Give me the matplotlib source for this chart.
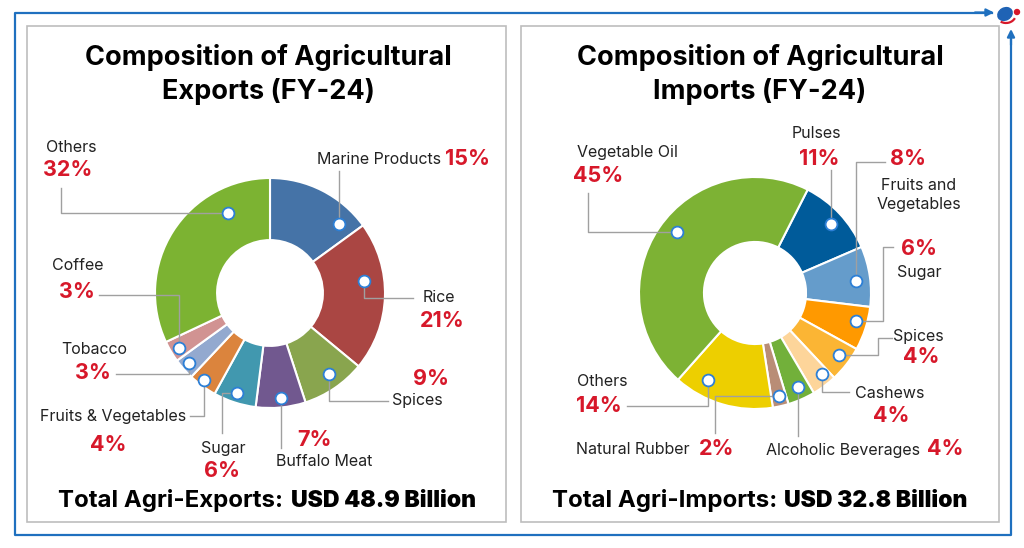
import matplotlib
matplotlib.use('Agg')
import matplotlib.pyplot as plt
from matplotlib.patches import Rectangle, Ellipse, Arc

plt.rcParams['font.family'] = ['Inter', 'DejaVu Sans']

# slice shares, clockwise
export_cats = ['Marine Products', 'Rice', 'Spices', 'Buffalo Meat', 'Sugar',
               'Fruits & Vegetables', 'Tobacco', 'Coffee', 'Others']
export_vals = [15, 21, 9, 7, 6, 4, 3, 3, 32]
export_pct = ['15%', '21%', '9%', '7%', '6%', '4%', '3%', '3%', '32%']
export_cols = ['#4573A7', '#AA4643', '#89A54E', '#71588F', '#4198AF',
               '#DB843D', '#93A9CF', '#D19392', '#7CB332']

import_cats = ['Pulses', 'Fruits and\nVegetables', 'Sugar', 'Spices', 'Cashews',
               'Alcoholic Beverages', 'Natural Rubber', 'Others', 'Vegetable Oil']
import_vals = [11, 8.4, 6.1, 5, 3.5, 3.8, 2.2, 14, 45.9]
import_pct = ['11%', '8%', '6%', '4%', '4%', '4%', '2%', '14%', '45%']
import_cols = ['#005B9A', '#659CCB', '#FF9900', '#FBB534', '#FDD59A',
               '#72B03A', '#B98D76', '#EDCF00', '#7DB234']

RED = '#D7182A'
BLUE = '#1F70BF'
GREY = '#A0A0A0'

# label centres in pixels, same order as the categories
export_name_xy = [(379, 160), (439, 298), (417, 400), (324, 462), (223, 449),
                  (113, 416), (94, 350), (78, 266), (71, 147)]
export_pct_xy = [(467, 159), (442, 321), (431, 379), (314, 440), (222, 471),
                 (108, 445), (93, 373), (77, 292), (68, 170)]
import_name_xy = [(816, 133), (919, 195), (919, 272), (918, 336), (890, 393),
                  (843, 450), (633, 450), (602, 381), (627, 152)]
import_pct_xy = [(819, 159), (908, 159), (919, 249), (921, 357), (891, 416),
                 (945, 449), (717, 449), (599, 406), (598, 176)]

# leader lines in pixels, the first point carries the dot
export_leaders = [[(339, 224), (339, 171)],
                  [(364, 281), (364, 298), (413, 298)],
                  [(329, 374), (329, 401), (388, 401)],
                  [(281, 398), (281, 448)],
                  [(237, 393), (222, 393), (222, 433)],
                  [(204, 380), (204, 416), (190, 416)],
                  [(189, 363), (189, 374), (116, 374)],
                  [(179, 348), (179, 295), (99, 295)],
                  [(228, 213), (61, 213), (61, 188)]]
import_leaders = [[(831, 224), (831, 170)],
                  [(856, 281), (856, 162), (885, 162)],
                  [(856, 321), (883, 321), (883, 247), (893, 247)],
                  [(839, 355), (878, 355), (878, 338), (892, 338)],
                  [(822, 374), (822, 392), (849, 392)],
                  [(798, 387), (798, 436)],
                  [(779, 396), (715, 396), (715, 433)],
                  [(708, 380), (708, 406), (627, 406)],
                  [(677, 232), (588, 232), (588, 193)]]

W, H = 1024, 548
fig = plt.figure(figsize=(W / 100, H / 100), dpi=100, facecolor='white')


def draw_pie(cx, cy, r, hole, vals, cols, start):
    ax = fig.add_axes([(cx - r) / W, 1 - (cy + r) / H, 2 * r / W, 2 * r / H])
    ax.pie(vals, colors=cols, startangle=start, counterclock=False, radius=1,
           wedgeprops=dict(width=1 - hole, edgecolor='white', linewidth=1.5))
    ax.set_xlim(-1, 1)
    ax.set_ylim(-1, 1)
    ax.axis('off')


draw_pie(270, 293, 115, 0.46, export_vals, export_cols, 90)
draw_pie(755, 293, 116, 0.44, import_vals, import_cols, 63)

# overlay in pixel coordinates for frame, callouts and text
ov = fig.add_axes([0, 0, 1, 1], facecolor='none')
ov.set_xlim(0, W)
ov.set_ylim(H, 0)
ov.axis('off')

ov.add_patch(Rectangle((26.5, 25.5), 479.5, 496.5, fill=False, ec='#BDBDBD', lw=1.2))
ov.add_patch(Rectangle((520.5, 25.5), 478.5, 496.5, fill=False, ec='#BDBDBD', lw=1.2))

# outer frame with the two arrows running into the logo
ov.plot([992, 14.5, 14.5, 1011, 1011], [12.5, 12.5, 535, 535, 40], color=BLUE, lw=1.6)
ov.annotate('', xy=(994, 12.5), xytext=(975, 12.5),
            arrowprops=dict(arrowstyle='-|>', color=BLUE, lw=1.6, mutation_scale=11, shrinkA=0, shrinkB=0))
ov.annotate('', xy=(1011, 29), xytext=(1011, 45),
            arrowprops=dict(arrowstyle='-|>', color=BLUE, lw=1.6, mutation_scale=11, shrinkA=0, shrinkB=0))

# logo
ov.add_patch(Ellipse((1005, 14), 15, 12, angle=-30, color='#1F63B5'))
ov.add_patch(Ellipse((1017, 12), 5, 5, color=RED))
ov.add_patch(Arc((1006, 14), 20, 18, theta1=25, theta2=125, color=RED, lw=1.6))

for leaders in (export_leaders, import_leaders):
    for pts in leaders:
        ov.plot([p[0] for p in pts], [p[1] for p in pts], color=GREY, lw=1, zorder=3)
        ov.plot(pts[0][0], pts[0][1], 'o', ms=8.5, mfc='white', mec='#2C7FD6', mew=1.3, zorder=4)

for names, name_xy, pcts, pct_xy in ((export_cats, export_name_xy, export_pct, export_pct_xy),
                                     (import_cats, import_name_xy, import_pct, import_pct_xy)):
    for n, xy in zip(names, name_xy):
        ov.text(xy[0], xy[1], n, ha='center', va='center', fontsize=11.5, color='#222222', linespacing=1.25)
    for p, xy in zip(pcts, pct_xy):
        ov.text(xy[0], xy[1], p, ha='center', va='center', fontsize=15.5, fontweight='bold', color=RED)

for x, lines in ((268, ['Composition of Agricultural', 'Exports (FY-24)']),
                 (760, ['Composition of Agricultural', 'Imports (FY-24)'])):
    ov.text(x, 57.5, lines[0], ha='center', va='center', fontsize=19.5, fontweight='bold', color='black')
    ov.text(x, 91.5, lines[1], ha='center', va='center', fontsize=19.5, fontweight='bold', color='black')

ov.text(283, 501, 'Total Agri-Exports:', ha='right', va='center', fontsize=17.3, fontweight='bold', color='black')
ov.text(291, 501, 'USD 48.9 Billion', ha='left', va='center', fontsize=16.5, fontweight='black', color='black')
ov.text(777, 501, 'Total Agri-Imports:', ha='right', va='center', fontsize=17.3, fontweight='bold', color='black')
ov.text(784, 501, 'USD 32.8 Billion', ha='left', va='center', fontsize=16.5, fontweight='black', color='black')

fig.savefig('out.png', dpi=100)
